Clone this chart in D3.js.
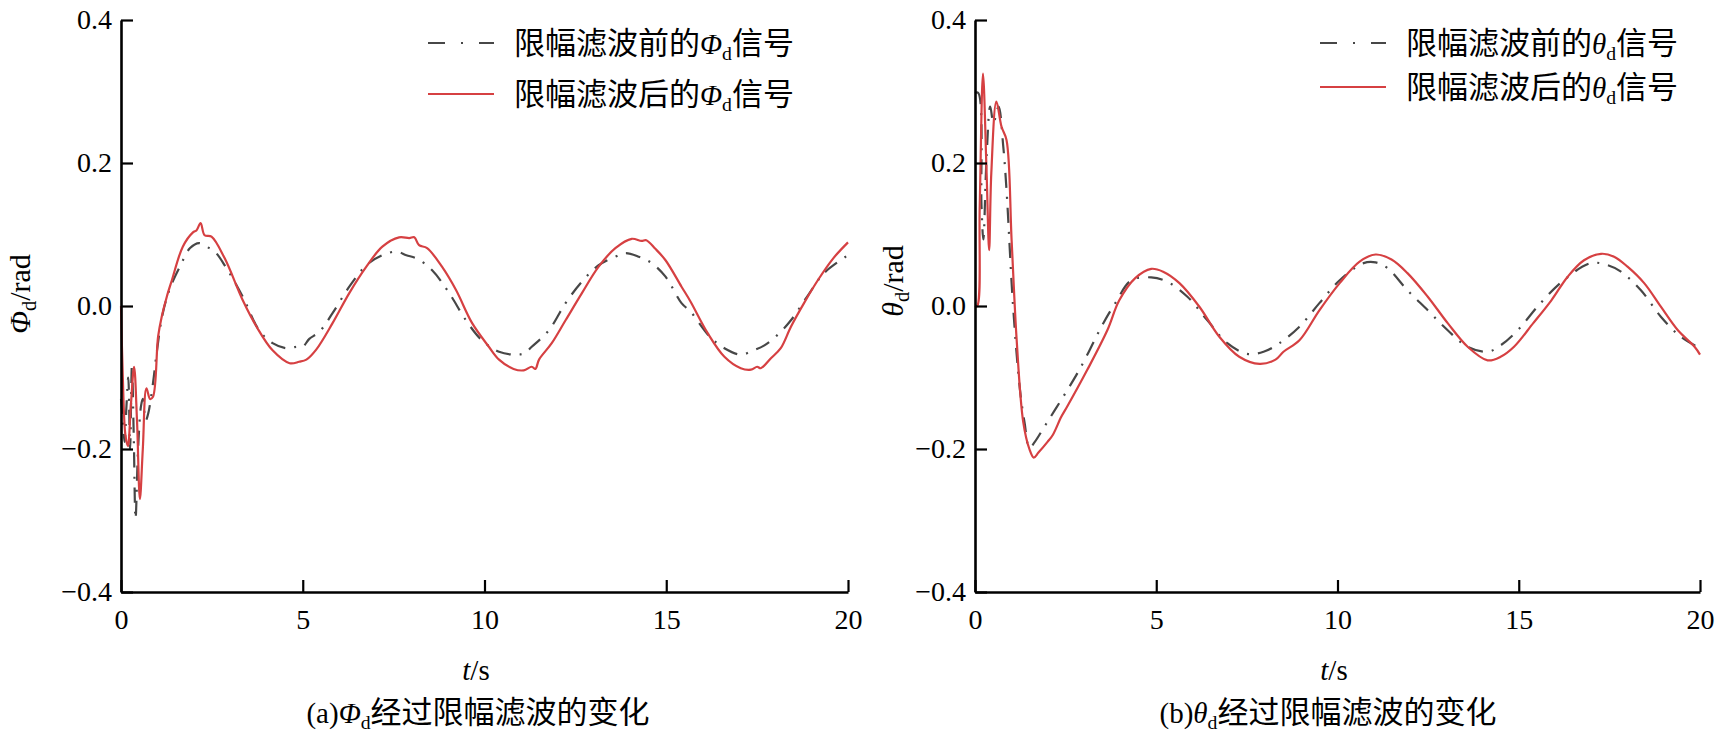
<!DOCTYPE html>
<html><head><meta charset="utf-8">
<script src="https://cdn.jsdelivr.net/npm/d3@7/dist/d3.min.js"></script>
<style>
html,body{margin:0;padding:0;background:#fff;}
svg{display:block;}
</style></head>
<body>
<svg id="chart" width="1732" height="736"></svg>
<script>
// ---------- data (t [s], value [rad]) ----------
const xTicks = [0, 5, 10, 15, 20];
const yTicks = [-0.4, -0.2, 0, 0.2, 0.4];

const phiBefore = [
 [0,-0.13],[0.05,-0.16],[0.1,-0.19],[0.15,-0.14],[0.2,-0.1],[0.25,-0.2],[0.3,-0.083],[0.35,-0.18],
 [0.4,-0.298],[0.47,-0.2],[0.55,-0.14],[0.6,-0.13],[0.68,-0.16],[0.75,-0.15],[0.88,-0.108],[0.98,-0.066],
 [1.15,-0.01],[1.35,0.025],[1.62,0.055],[1.9,0.081],[2.15,0.088],[2.35,0.083],[2.58,0.076],[2.9,0.053],
 [3.35,0.013],[3.8,-0.034],[4.17,-0.052],[4.55,-0.059],[4.83,-0.057],[5.0,-0.057],[5.18,-0.046],[5.46,-0.036],
 [5.82,-0.01],[6.28,0.027],[6.75,0.057],[7.19,0.071],[7.57,0.076],[7.85,0.071],[8.15,0.066],[8.56,0.05],
 [9.03,0.018],[9.49,-0.02],[9.93,-0.048],[10.4,-0.064],[10.86,-0.068],[11.1,-0.066],[11.3,-0.057],[11.77,-0.034],
 [12.23,0.004],[12.68,0.034],[13.14,0.057],[13.6,0.069],[13.88,0.074],[14.24,0.069],[14.6,0.06],[14.98,0.041],
 [15.42,0.004],[15.67,-0.008],[16.2,-0.043],[16.6,-0.059],[17.05,-0.068],[17.4,-0.062],[17.7,-0.055],[18.07,-0.04],
 [18.43,-0.02],[18.9,0.015],[19.34,0.046],[20,0.071]
];
const phiAfter = [
 [0,0],[0.05,-0.1],[0.12,-0.18],[0.19,-0.196],[0.27,-0.14],[0.36,-0.085],[0.44,-0.16],[0.52,-0.27],
 [0.6,-0.2],[0.7,-0.115],[0.8,-0.13],[0.88,-0.127],[1.02,-0.043],[1.12,-0.015],[1.26,0.013],[1.4,0.036],
 [1.7,0.083],[1.98,0.103],[2.08,0.106],[2.19,0.116],[2.3,0.099],[2.49,0.097],[2.85,0.067],[3.35,0.008],
 [3.73,-0.029],[4.17,-0.062],[4.64,-0.08],[4.9,-0.078],[5.1,-0.075],[5.37,-0.061],[5.82,-0.024],[6.28,0.018],
 [6.75,0.055],[7.19,0.083],[7.65,0.096],[7.93,0.095],[8.07,0.096],[8.2,0.085],[8.42,0.081],[8.83,0.055],
 [9.22,0.022],[9.66,-0.024],[10.12,-0.057],[10.4,-0.075],[10.8,-0.088],[11.08,-0.09],[11.3,-0.085],[11.4,-0.088],
 [11.5,-0.075],[11.85,-0.052],[12.23,-0.02],[12.68,0.018],[13.14,0.055],[13.6,0.081],[14.05,0.094],[14.32,0.091],
 [14.45,0.092],[14.7,0.08],[14.98,0.064],[15.42,0.027],[15.67,0.006],[16.14,-0.038],[16.6,-0.071],[17.05,-0.087],
 [17.33,-0.089],[17.5,-0.085],[17.6,-0.087],[17.88,-0.073],[18.15,-0.059],[18.43,-0.029],[18.79,0.004],[19.17,0.036],
 [19.6,0.067],[20,0.089]
];
const thetaBefore = [
 [0,0.298],[0.09,0.298],[0.18,0.139],[0.23,0.093],[0.32,0.209],[0.42,0.279],[0.51,0.256],[0.65,0.279],
 [0.78,0.223],[0.87,0.162],[1.05,0.0],[1.24,-0.117],[1.37,-0.164],[1.5,-0.198],[1.65,-0.19],[1.9,-0.17],
 [2.21,-0.145],[2.87,-0.09],[3.54,-0.024],[3.87,0.004],[4.31,0.036],[4.86,0.04],[5.3,0.034],[5.86,0.013],
 [6.41,-0.02],[6.96,-0.052],[7.51,-0.067],[7.96,-0.064],[8.4,-0.052],[8.95,-0.029],[9.5,0.004],[10.06,0.036],
 [10.72,0.06],[11.05,0.061],[11.38,0.053],[11.93,0.022],[12.49,-0.006],[13.04,-0.034],[13.59,-0.057],[14.14,-0.064],
 [14.5,-0.055],[14.97,-0.034],[15.6,0.004],[16.24,0.036],[16.99,0.06],[17.46,0.057],[17.82,0.048],[18.37,0.022],
 [18.92,-0.015],[19.47,-0.043],[20,-0.059]
];
const thetaAfter = [
 [0,0],[0.06,0.0],[0.13,0.139],[0.22,0.325],[0.32,0.186],[0.39,0.078],[0.45,0.186],[0.59,0.286],
 [0.73,0.251],[0.87,0.232],[1.01,0.092],[1.15,-0.048],[1.33,-0.162],[1.5,-0.2],[1.62,-0.212],[1.75,-0.205],
 [2.0,-0.19],[2.15,-0.18],[2.38,-0.155],[2.54,-0.141],[3.09,-0.09],[3.65,-0.034],[3.98,0.008],[4.42,0.039],
 [4.86,0.052],[5.19,0.048],[5.64,0.032],[6.19,-0.001],[6.74,-0.043],[7.29,-0.071],[7.85,-0.081],[8.29,-0.075],
 [8.51,-0.064],[8.95,-0.048],[9.5,-0.006],[10.06,0.032],[10.61,0.062],[11.05,0.072],[11.49,0.065],[11.93,0.046],
 [12.49,0.013],[13.04,-0.024],[13.59,-0.057],[14.14,-0.076],[14.5,-0.071],[14.87,-0.057],[15.4,-0.024],[15.9,0.008],
 [16.35,0.041],[16.8,0.064],[17.27,0.073],[17.63,0.069],[18.0,0.055],[18.46,0.032],[18.92,-0.001],[19.39,-0.034],
 [19.85,-0.057],[20,-0.068]
];

// ---------- style ----------
const LATIN = '"Liberation Serif","Times New Roman",serif';
const CJK = '"Noto Sans CJK SC","Noto Sans CJK JP",sans-serif';
const FS = 28;
const RED = '#d64042', GRAY = '#474747';
const DASH = '15,9,2,9';

const svg = d3.select('#chart');

function rich(g, x, y, parts, anchor, rotate, size, cjkSize) {
  const fs = size || FS, cs = cjkSize || fs;
  const t = g.append('text')
    .attr('x', x).attr('y', y)
    .attr('text-anchor', anchor || 'start')
    .attr('font-size', fs).attr('fill', '#000');
  if (rotate) t.attr('transform', `rotate(${rotate},${x},${y})`);
  let shifted = 0;
  parts.forEach(([s, kind]) => {
    const ts = t.append('tspan').text(s);
    if (kind === 'cjk') ts.attr('font-family', CJK).attr('font-size', cs);
    else ts.attr('font-family', LATIN);
    if (kind === 'ital') ts.attr('font-style', 'italic');
    if (kind === 'sub') { ts.attr('font-size', fs * 0.68).attr('dy', 6); shifted = 6; }
    else if (shifted) { ts.attr('dy', -shifted); shifted = 0; }
  });
  return t;
}

const panels = [
  { x0: 121, x1: 848, before: phiBefore, after: phiAfter, sym: 'Φ',
    ylabX: 30, ylabY: 294, caption: '(a)', legX: 428, legY: [43, 94], capX: 478, tX: 476 },
  { x0: 975, x1: 1700, before: thetaBefore, after: thetaAfter, sym: 'θ',
    ylabX: 903, ylabY: 281, caption: '(b)', legX: 1320, legY: [43, 87], capX: 1328, tX: 1334 }
];
const yTop = 20, yBot = 592;

panels.forEach(p => {
  const g = svg.append('g');
  const x = d3.scaleLinear().domain([0, 20]).range([p.x0, p.x1]);
  const y = d3.scaleLinear().domain([-0.4, 0.4]).range([yBot, yTop]);

  const line = d3.line().x(d => x(d[0])).y(d => y(d[1])).curve(d3.curveCatmullRom.alpha(0.5));

  g.append('path').datum(p.before).attr('d', line)
    .attr('fill', 'none').attr('stroke', GRAY).attr('stroke-width', 2.2)
    .attr('stroke-dasharray', DASH);
  g.append('path').datum(p.after).attr('d', line)
    .attr('fill', 'none').attr('stroke', RED).attr('stroke-width', 2.2);

  const xa = g.append('g').attr('transform', `translate(0,${yBot})`)
    .call(d3.axisBottom(x).tickValues(xTicks).tickFormat(d3.format('d'))
      .tickSizeInner(-12).tickSizeOuter(0).tickPadding(17));
  const ya = g.append('g').attr('transform', `translate(${p.x0},0)`)
    .call(d3.axisLeft(y).tickValues(yTicks).tickFormat(d3.format('.1f'))
      .tickSizeInner(-12).tickSizeOuter(0).tickPadding(9));
  [xa, ya].forEach(a => {
    a.select('.domain').attr('stroke', '#000').attr('stroke-width', 2.6);
    a.selectAll('.tick line').attr('stroke', '#000').attr('stroke-width', 2.2);
    a.selectAll('.tick text').attr('font-family', LATIN).attr('font-size', FS).attr('fill', '#000');
  });

  // axis labels
  rich(g, p.tX, 680, [['t', 'ital'], ['/s', 'lat']], 'middle', 0, 29);
  rich(g, p.ylabX, p.ylabY, [[p.sym, 'ital'], ['d', 'sub'], ['/rad', 'lat']], 'middle', -90, 30);
  rich(g, p.capX, 723, [[p.caption, 'lat'], [p.sym, 'ital'], ['d', 'sub'], ['经过限幅滤波的变化', 'cjk']], 'middle', 0, 29, 31);

  // legend
  const items = [['前', GRAY, DASH], ['后', RED, null]];
  items.forEach((it, i) => {
    const ly = p.legY[i];
    const l = g.append('line').attr('x1', p.legX).attr('x2', p.legX + 66)
      .attr('y1', ly).attr('y2', ly).attr('stroke', it[1]).attr('stroke-width', 2.2);
    if (it[2]) l.attr('stroke-dasharray', '17,16,2,16');
    rich(g, p.legX + 86, ly + 11, [['限幅滤波' + it[0] + '的', 'cjk'], [p.sym, 'ital'], ['d', 'sub'], ['信号', 'cjk']], 'start', 0, 29, 31);
  });
});
</script>
</body></html>
